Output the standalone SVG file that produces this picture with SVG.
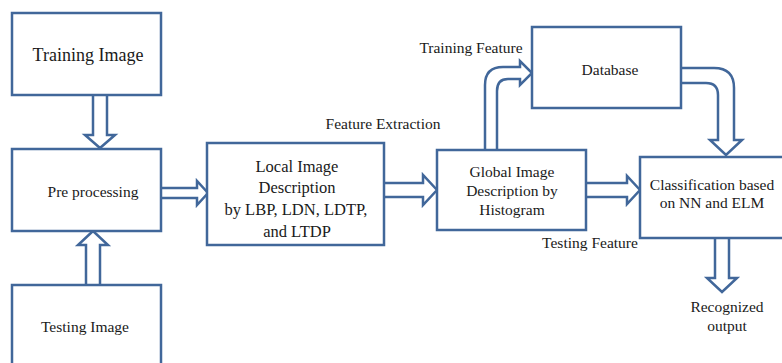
<svg xmlns="http://www.w3.org/2000/svg" width="782" height="363" viewBox="0 0 782 363">
<style>
.box{fill:#fff;stroke:#41679a;stroke-width:2.5}
.arr{fill:#fff;stroke:#41679a;stroke-width:2.5;stroke-linejoin:miter}
text{font-family:"Liberation Serif","Times New Roman",serif;fill:#1a1a1a;text-anchor:middle}
.t15{font-size:15.5px}
.t18{font-size:18px}
.t17{font-size:16.5px}
</style>
<rect width="782" height="363" fill="#fff"/>
<g id="connectors">
<path class="arr" d="M93,95 V135 H85 L100,148 L115,135 H107 V95"/>
<path class="arr" d="M86,285 V245 H78 L93,231 L108,245 H100 V285"/>
<path class="arr" d="M161,188 H197 V181 L208,193 L197,205 V198 H161"/>
<path class="arr" d="M384,183 H423 V175 L437,190 L423,205 V197 H384"/>
<path class="arr" d="M586,183 H627 V176 L640,190 L627,204 V197 H586"/>
<path class="arr" d="M715,238 V278 H707 L722,292 L737,278 H729 V238"/>
<path class="arr" d="M485,150 V85 Q485,67 503,67 H520 V61 L532,73 L520,85 V79 H508 Q497,79 497,91 V150"/>
<path class="arr" d="M681,68 H714 Q734,68 734,88 V140 H742 L726,155 L710,140 H718 V95 Q718,83 706,83 H681"/>
</g>
<g id="training-image"><rect class="box" x="12" y="13" width="149" height="82"/><text class="t18" x="88" y="61">Training Image</text></g>
<g id="pre-processing"><rect class="box" x="12" y="149" width="149" height="82"/><text class="t15" x="93" y="197">Pre processing</text></g>
<g id="testing-image"><rect class="box" x="12" y="285" width="149" height="100"/><text class="t15" x="85" y="332">Testing Image</text></g>
<g id="local-image"><rect class="box" x="207" y="143" width="177" height="102"/>
<text class="t17" x="297" y="172">Local  Image</text>
<text class="t17" x="297" y="193">Description</text>
<text class="t17" x="296" y="215">by LBP, LDN, LDTP,</text>
<text class="t17" x="297" y="237">and LTDP</text></g>
<text class="t15" x="383" y="129">Feature Extraction</text>
<g id="global-image"><rect class="box" x="437" y="150" width="149" height="80"/>
<text class="t15" x="512" y="177">Global Image</text>
<text class="t15" x="512" y="196">Description by</text>
<text class="t15" x="512" y="215">Histogram</text></g>
<g id="database"><rect class="box" x="532" y="27" width="149" height="81"/><text class="t15" x="610" y="75">Database</text></g>
<text class="t15" x="471" y="53">Training Feature</text>
<text class="t15" x="590" y="248">Testing Feature</text>
<g id="classification"><rect class="box" x="640" y="157" width="160" height="81"/>
<text class="t15" x="712" y="190">Classification based</text>
<text class="t15" x="712" y="208">on NN and ELM</text></g>
<g id="recognized-output"><text class="t15" x="727" y="312">Recognized</text><text class="t15" x="727" y="331">output</text></g>
</svg>
